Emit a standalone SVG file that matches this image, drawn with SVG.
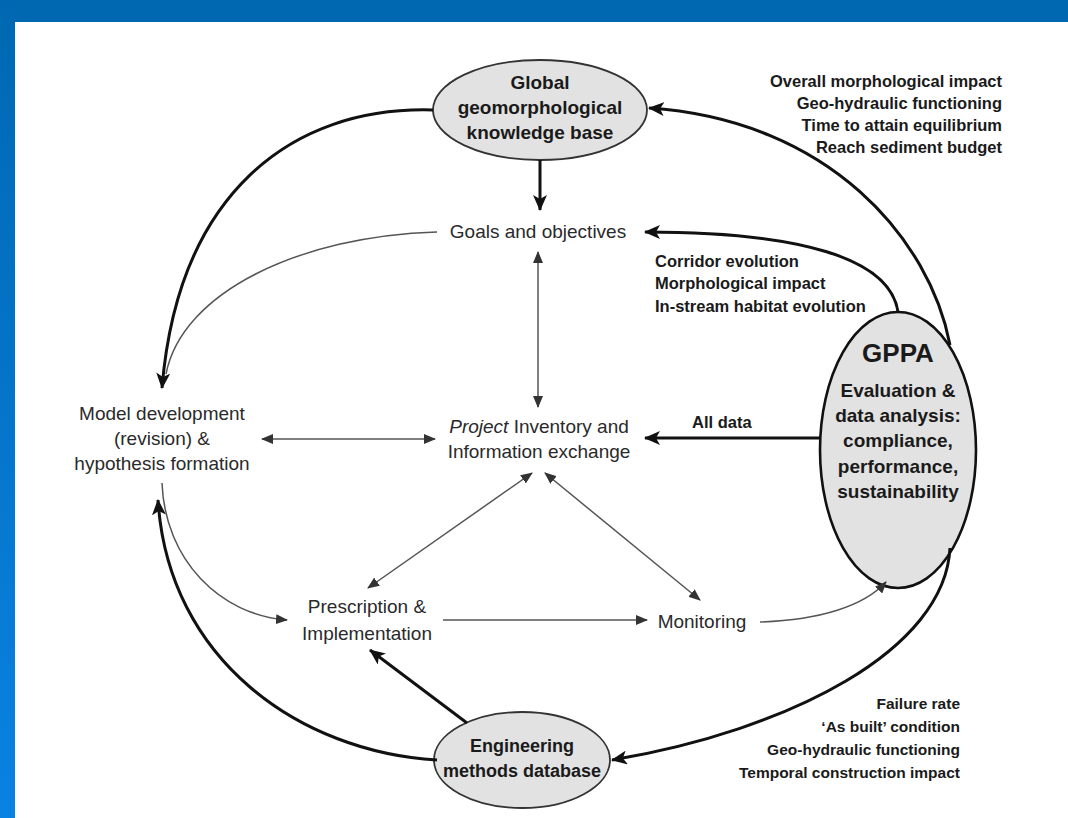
<svg xmlns="http://www.w3.org/2000/svg" width="1068" height="818" viewBox="0 0 1068 818">
<defs>
<linearGradient id="side" x1="0" y1="0" x2="0" y2="1">
<stop offset="0" stop-color="#0068b2"/>
<stop offset="1" stop-color="#0a82e2"/>
</linearGradient>
<marker id="hb" viewBox="0 0 16 14" refX="15" refY="7" markerWidth="16" markerHeight="14" markerUnits="userSpaceOnUse" orient="auto">
<path d="M0,0 L16,7 L0,14 L4,7 Z" fill="#111"/>
</marker>
<marker id="ht" viewBox="0 0 12 10" refX="11" refY="5" markerWidth="12" markerHeight="10" markerUnits="userSpaceOnUse" orient="auto-start-reverse">
<path d="M0,0 L12,5 L0,10 Z" fill="#333"/>
</marker>
<style>
.thick{fill:none;stroke:#111;stroke-width:3}
.thin{fill:none;stroke:#555;stroke-width:1.5}
.node{fill:#e2e2e2;stroke:#333;stroke-width:1.8}
.b{font-family:"Liberation Sans",Arial,sans-serif;font-weight:bold;fill:#1a1a1a}
.r{font-family:"Liberation Sans",Arial,sans-serif;fill:#2a2a2a}
</style>
</defs>
<rect x="0" y="0" width="1068" height="818" fill="#ffffff"/>
<rect x="0" y="0" width="1068" height="22" fill="#0067b1"/>
<rect x="0" y="0" width="15" height="818" fill="url(#side)"/>

<g id="global">
<ellipse class="node" cx="540" cy="110" rx="107" ry="50"/>
<text class="b" font-size="19" text-anchor="middle"><tspan x="540" y="89">Global</tspan><tspan x="540" y="114">geomorphological</tspan><tspan x="540" y="139">knowledge base</tspan></text>
</g>

<g id="goals">
<text class="r" font-size="19" x="538" y="238" text-anchor="middle">Goals and objectives</text>
</g>

<g id="model">
<text class="r" font-size="19" text-anchor="middle"><tspan x="162" y="420">Model development</tspan><tspan x="162" y="445">(revision) &amp;</tspan><tspan x="162" y="470">hypothesis formation</tspan></text>
</g>

<g id="project">
<text class="r" font-size="19" text-anchor="middle"><tspan x="539" y="433"><tspan font-style="italic">Project</tspan> Inventory and</tspan><tspan x="539" y="458">Information exchange</tspan></text>
</g>

<g id="prescription">
<text class="r" font-size="19" text-anchor="middle"><tspan x="367" y="613">Prescription &amp;</tspan><tspan x="367" y="640">Implementation</tspan></text>
</g>

<g id="monitoring">
<text class="r" font-size="19" x="702" y="628" text-anchor="middle">Monitoring</text>
</g>

<g id="gppa">
<ellipse cx="898" cy="450" rx="78" ry="138" fill="#e2e2e2" stroke="#111" stroke-width="2.6"/>
<text class="b" font-size="26" x="898" y="362" text-anchor="middle">GPPA</text>
<text class="b" font-size="19" text-anchor="middle"><tspan x="898" y="397">Evaluation &amp;</tspan><tspan x="898" y="422">data analysis:</tspan><tspan x="898" y="447">compliance,</tspan><tspan x="898" y="473">performance,</tspan><tspan x="898" y="498">sustainability</tspan></text>
</g>

<g id="engineering">
<ellipse class="node" cx="522" cy="760" rx="88" ry="48"/>
<text class="b" font-size="18" text-anchor="middle"><tspan x="522" y="752">Engineering</tspan><tspan x="522" y="777">methods database</tspan></text>
</g>

<g id="labels">
<text class="b" font-size="16.5" text-anchor="end"><tspan x="1002" y="87">Overall morphological impact</tspan><tspan x="1002" y="109">Geo-hydraulic functioning</tspan><tspan x="1002" y="131">Time to attain equilibrium</tspan><tspan x="1002" y="153">Reach sediment budget</tspan></text>
<text class="b" font-size="16.5"><tspan x="655" y="267">Corridor evolution</tspan><tspan x="655" y="289">Morphological impact</tspan><tspan x="655" y="312">In-stream habitat evolution</tspan></text>
<text class="b" font-size="16.5" x="692" y="428">All data</text>
<text class="b" font-size="15.5" text-anchor="end"><tspan x="960" y="709">Failure rate</tspan><tspan x="960" y="732">‘As built’ condition</tspan><tspan x="960" y="755">Geo-hydraulic functioning</tspan><tspan x="960" y="778">Temporal construction impact</tspan></text>
</g>

<g id="connectors">
<path class="thick" d="M433,110 C 290,106 178,195 162,388" marker-end="url(#hb)"/>
<path class="thin" d="M437,232 C 300,236 182,292 166,374"/>
<path class="thick" d="M950,345 C 930,240 830,120 649,108" marker-end="url(#hb)"/>
<path class="thick" d="M898,312 C 890,258 800,232 645,232" marker-end="url(#hb)"/>
<path class="thick" d="M820,438 L645,438" marker-end="url(#hb)"/>
<path class="thick" d="M950,548 C 945,650 790,730 612,760" marker-end="url(#hb)"/>
<path class="thick" d="M540,160 L540,210" marker-end="url(#hb)"/>
<path class="thin" d="M538,252 L538,407" marker-start="url(#ht)" marker-end="url(#ht)"/>
<path class="thin" d="M262,439 L435,439" marker-start="url(#ht)" marker-end="url(#ht)"/>
<path class="thin" d="M532,473 L368,588" marker-start="url(#ht)" marker-end="url(#ht)"/>
<path class="thin" d="M545,473 L700,600" marker-start="url(#ht)" marker-end="url(#ht)"/>
<path class="thin" d="M443,620 L647,620" marker-end="url(#ht)"/>
<path class="thin" d="M760,622 C 820,620 864,606 886,582" marker-end="url(#ht)"/>
<path class="thin" d="M162,483 C 165,560 220,615 287,620" marker-end="url(#ht)"/>
<path class="thick" d="M437,760 C 300,752 168,660 158,500" marker-end="url(#hb)"/>
<path class="thick" d="M467,723 L370,650" marker-end="url(#hb)"/>
</g>
</svg>
